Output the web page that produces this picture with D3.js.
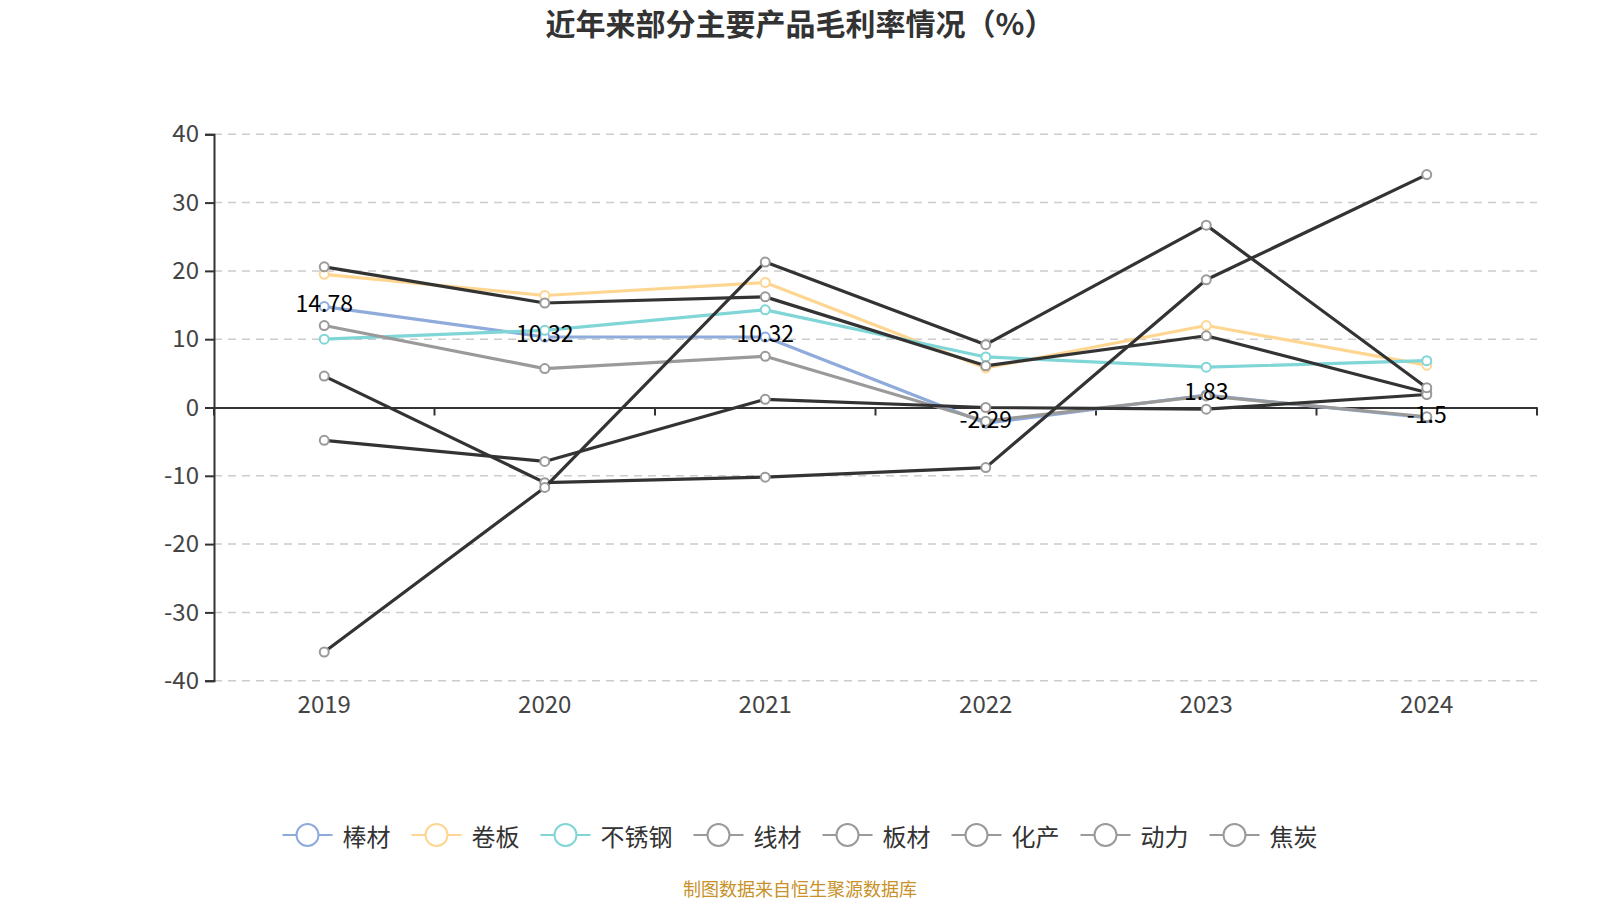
<!DOCTYPE html>
<html>
<head>
<meta charset="utf-8">
<script src="https://cdn.jsdelivr.net/npm/d3@7"></script>
<style>
  html, body { margin: 0; padding: 0; background: #fff; }
  svg { display: block; font-family: "Noto Sans CJK SC", "Noto Sans", sans-serif; }
</style>
</head>
<body>
<svg id="chart" width="1600" height="900"></svg>
<script>
// ---- data ----
const years = ['2019', '2020', '2021', '2022', '2023', '2024'];
const yTicks = [-40, -30, -20, -10, 0, 10, 20, 30, 40];
const seriesNames = ['棒材', '卷板', '不锈钢', '线材', '板材', '化产', '动力', '焦炭'];
const bangcai   = [14.78, 10.32, 10.32, -2.29, 1.83, -1.5];
const juanban   = [19.5, 16.4, 18.3, 5.8, 12.0, 6.2];
const buxiugang = [10.0, 11.3, 14.3, 7.4, 5.9, 6.85];
const xiancai   = [12.0, 5.7, 7.5, -2.0, 1.7, -1.35];
const bancai    = [20.6, 15.3, 16.2, 6.1, 10.5, 2.2];
const huachan   = [-4.8, -7.9, 1.2, 0.0, -0.25, 1.9];
const dongli    = [4.6, -11.0, -10.2, -8.8, 18.7, 34.1];
const jiaotan   = [-35.8, -11.7, 21.3, 9.2, 26.7, 2.9];
const seriesValues = [bangcai, juanban, buxiugang, xiancai, bancai, huachan, dongli, jiaotan];
const labelSeries = 0; // 棒材 values are labelled

// ---- styles ----
const lineColors   = ['#8eabdc', '#fed691', '#80d5d6', '#9a9a9a', '#333333', '#333333', '#333333', '#333333'];
const markerColors = ['#8eabdc', '#fed691', '#80d5d6', '#9a9a9a', '#9a9a9a', '#9a9a9a', '#9a9a9a', '#9a9a9a'];

const svg = d3.select('#chart');
const gLeft = 214, gRight = 1537, gTop = 134.3, gBottom = 680.7;

const x = d3.scaleBand().domain(years).range([gLeft, gRight]).padding(0);
const y = d3.scaleLinear().domain([-40, 40]).range([gBottom, gTop]);
const cx = d => x(d) + x.bandwidth() / 2;

// title
svg.append('text')
  .attr('x', 800).attr('y', 22)
  .attr('text-anchor', 'middle').attr('dominant-baseline', 'central')
  .style('font-size', '30px').style('font-weight', 'bold').style('fill', '#333')
  .text('近年来部分主要产品毛利率情况（%）');

// gridlines
svg.append('g').selectAll('line')
  .data(yTicks.filter(t => t !== 0))
  .join('line')
  .attr('x1', gLeft).attr('x2', gRight)
  .attr('y1', d => y(d)).attr('y2', d => y(d))
  .attr('stroke', '#cccccc').attr('stroke-width', 1.5)
  .attr('stroke-dasharray', '8,6');

// y axis
const yAxis = d3.axisLeft(y).tickValues(yTicks).tickSize(9).tickPadding(6).tickFormat(d => String(d));
const gy = svg.append('g').attr('transform', `translate(${gLeft},0)`).call(yAxis);
gy.select('.domain').attr('stroke', '#333').attr('stroke-width', 2);
gy.selectAll('.tick line').attr('stroke', '#333').attr('stroke-width', 2);
gy.selectAll('.tick text').style('font-size', '24px').style('fill', '#444')
  .style('font-family', '"Noto Sans CJK SC", sans-serif');

// x axis line on zero with ticks at band boundaries
const gx = svg.append('g').attr('transform', `translate(0,${y(0)})`)
  .call(d3.axisBottom(x).tickSize(0).tickFormat(''));
gx.select('.domain').attr('stroke', '#333').attr('stroke-width', 2);
gx.selectAll('.tick').remove();
const boundaries = years.map(d => x(d) + x.bandwidth()).concat([x(years[0])]);
gx.selectAll('line.bt').data(boundaries).join('line').attr('class', 'bt')
  .attr('x1', d => d).attr('x2', d => d).attr('y1', 0).attr('y2', 8)
  .attr('stroke', '#333').attr('stroke-width', 2);

// x labels at bottom
svg.append('g').selectAll('text')
  .data(years).join('text')
  .attr('x', d => cx(d)).attr('y', 702)
  .attr('text-anchor', 'middle').attr('dominant-baseline', 'central')
  .style('font-size', '24px').style('fill', '#444')
  .text(d => d);

// lines
const line = d3.line().x((d, i) => cx(years[i])).y(d => y(d));
const gLines = svg.append('g');
seriesValues.forEach((vals, s) => {
  const g = gLines.append('g');
  g.append('path').datum(vals)
    .attr('d', line).attr('fill', 'none')
    .attr('stroke', lineColors[s]).attr('stroke-width', 3.2)
    .attr('stroke-linejoin', 'round');
  g.selectAll('circle').data(vals).join('circle')
    .attr('cx', (d, i) => cx(years[i])).attr('cy', d => y(d)).attr('r', 4.5)
    .attr('fill', '#fff').attr('stroke', markerColors[s]).attr('stroke-width', 2);
});

// data labels
svg.append('g').selectAll('text')
  .data(seriesValues[labelSeries]).join('text')
  .attr('x', (d, i) => cx(years[i])).attr('y', d => y(d) - 5)
  .attr('text-anchor', 'middle').attr('dominant-baseline', 'central')
  .style('font-size', '23px').style('fill', '#000')
  .text(d => d);

// legend
const legend = svg.append('g');
let lx = 0;
const legendY = 835;
seriesNames.forEach((name, s) => {
  const item = legend.append('g').attr('transform', `translate(${lx},0)`);
  item.append('line').attr('x1', 0).attr('x2', 50).attr('y1', legendY).attr('y2', legendY)
    .attr('stroke', markerColors[s]).attr('stroke-width', 2);
  item.append('circle').attr('cx', 25).attr('cy', legendY).attr('r', 11)
    .attr('fill', '#fff').attr('stroke', markerColors[s]).attr('stroke-width', 2);
  const t = item.append('text').attr('x', 60).attr('y', legendY)
    .attr('dominant-baseline', 'central')
    .style('font-size', '24px').style('fill', '#333').text(name);
  const w = t.node().getComputedTextLength();
  lx += 60 + w + 21;
});
const legendWidth = lx - 21;
legend.attr('transform', `translate(${800 - legendWidth / 2},0)`);

// source
svg.append('text')
  .attr('x', 800).attr('y', 888)
  .attr('text-anchor', 'middle').attr('dominant-baseline', 'central')
  .style('font-size', '18px').style('fill', '#c8912a')
  .text('制图数据来自恒生聚源数据库');
</script>
</body>
</html>
